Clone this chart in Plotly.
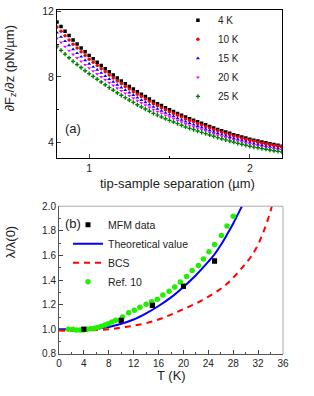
import plotly.graph_objects as go

# ---------------- Panel (a) data ----------------
separation_um = [0.8, 0.825, 0.85, 0.875, 0.9, 0.925, 0.95, 0.975, 1.0, 1.025, 1.05, 1.075,
                 1.1, 1.125, 1.15, 1.175, 1.2, 1.225, 1.25, 1.275, 1.3, 1.325, 1.35, 1.375,
                 1.4, 1.425, 1.45, 1.475, 1.5, 1.525, 1.55, 1.575, 1.6, 1.625, 1.65, 1.675,
                 1.7, 1.725, 1.75, 1.775, 1.8, 1.825, 1.85, 1.875, 1.9, 1.925, 1.95, 1.975,
                 2.0, 2.025, 2.05, 2.075, 2.1, 2.125, 2.15, 2.175, 2.2]

grad_4K = [11.35, 11.07, 10.79, 10.52, 10.25, 10.01, 9.77, 9.53, 9.30, 9.10, 8.90, 8.70,
           8.50, 8.31, 8.12, 7.93, 7.75, 7.59, 7.42, 7.26, 7.10, 6.95, 6.80, 6.65,
           6.50, 6.37, 6.25, 6.12, 6.00, 5.89, 5.77, 5.66, 5.55, 5.45, 5.36, 5.26,
           5.17, 5.08, 4.98, 4.89, 4.80, 4.72, 4.64, 4.56, 4.48, 4.41, 4.34, 4.27,
           4.20, 4.14, 4.09, 4.03, 3.98, 3.93, 3.88, 3.83, 3.78]
grad_10K = [11.05, 10.78, 10.51, 10.25, 9.99, 9.76, 9.53, 9.30, 9.08, 8.89, 8.69, 8.50,
            8.31, 8.12, 7.94, 7.75, 7.58, 7.42, 7.26, 7.10, 6.95, 6.80, 6.66, 6.51,
            6.36, 6.24, 6.12, 6.00, 5.88, 5.77, 5.66, 5.55, 5.44, 5.34, 5.26, 5.16,
            5.07, 4.98, 4.89, 4.80, 4.71, 4.63, 4.55, 4.48, 4.40, 4.33, 4.26, 4.19,
            4.13, 4.07, 4.02, 3.96, 3.91, 3.86, 3.82, 3.77, 3.72]
grad_15K = [10.70, 10.44, 10.18, 9.93, 9.68, 9.45, 9.23, 9.01, 8.80, 8.61, 8.43, 8.24,
            8.05, 7.87, 7.70, 7.52, 7.35, 7.20, 7.04, 6.89, 6.73, 6.59, 6.45, 6.31,
            6.17, 6.05, 5.93, 5.81, 5.70, 5.60, 5.48, 5.38, 5.27, 5.18, 5.09, 5.00,
            4.91, 4.83, 4.73, 4.65, 4.56, 4.48, 4.41, 4.33, 4.25, 4.19, 4.12, 4.05,
            3.99, 3.93, 3.88, 3.82, 3.78, 3.73, 3.68, 3.64, 3.59]
grad_20K = [10.35, 10.10, 9.85, 9.61, 9.37, 9.16, 8.95, 8.74, 8.54, 8.36, 8.18, 8.00,
            7.82, 7.65, 7.48, 7.31, 7.15, 7.00, 6.85, 6.70, 6.55, 6.41, 6.28, 6.14,
            6.00, 5.88, 5.78, 5.66, 5.55, 5.45, 5.34, 5.24, 5.13, 5.04, 4.96, 4.87,
            4.79, 4.71, 4.61, 4.53, 4.45, 4.38, 4.30, 4.23, 4.16, 4.09, 4.03, 3.96,
            3.90, 3.85, 3.80, 3.75, 3.71, 3.66, 3.62, 3.57, 3.53]
grad_25K = [9.85, 9.62, 9.39, 9.17, 8.95, 8.76, 8.57, 8.38, 8.20, 8.03, 7.86, 7.69,
            7.52, 7.35, 7.19, 7.03, 6.88, 6.74, 6.59, 6.45, 6.30, 6.17, 6.04, 5.91,
            5.78, 5.67, 5.56, 5.45, 5.35, 5.25, 5.15, 5.05, 4.95, 4.86, 4.79, 4.70,
            4.62, 4.54, 4.46, 4.38, 4.30, 4.23, 4.16, 4.09, 4.02, 3.95, 3.89, 3.83,
            3.77, 3.72, 3.68, 3.63, 3.59, 3.54, 3.50, 3.46, 3.42]

series_a_names = ["4 K", "10 K", "15 K", "20 K", "25 K"]
series_a_values = [grad_4K, grad_10K, grad_15K, grad_20K, grad_25K]
series_a_colors = ["#000000", "#ff0000", "#0000ff", "#ff00ff", "#008000"]
series_a_symbols = ["square", "circle", "triangle-up", "triangle-down", "cross"]

a_xticks = [1, 2]
a_yticks = [4, 8, 12]

# ---------------- Panel (b) data ----------------
mfm_T = [4, 10, 15, 20, 25]
mfm_lambda = [1.0, 1.075, 1.195, 1.35, 1.555]

theory_T = [0, 2, 4, 6, 8, 10, 12, 14, 16, 18, 20, 22, 24, 25, 26, 27, 28, 29, 29.4]
theory_lambda = [1.0, 1.0, 1.0, 1.005, 1.02, 1.045, 1.08, 1.13, 1.19, 1.26, 1.345,
                 1.44, 1.55, 1.61, 1.685, 1.77, 1.86, 1.96, 2.0]

bcs_T = [0, 4, 8, 10, 12, 14, 16, 18, 20, 22, 24, 26, 27, 28, 29, 30, 31, 32, 33, 34, 34.2]
bcs_lambda = [0.99, 0.99, 1.0, 1.015, 1.03, 1.05, 1.08, 1.12, 1.165, 1.21, 1.265, 1.33,
              1.37, 1.42, 1.475, 1.535, 1.60, 1.69, 1.81, 1.96, 2.0]

ref10_T = [1.5, 2.2, 2.8, 3.4, 3.9, 4.5, 5.1, 5.7, 6.2, 6.8, 7.4, 7.9, 8.5, 9.1, 10.2,
           11.2, 12.1, 13.0, 14.0, 14.9, 15.8, 16.7, 17.7, 18.6, 19.5, 20.5, 21.4, 22.4,
           23.2, 24.1, 25.0, 26.1, 27.0, 28.0]
ref10_lambda = [1.0, 1.0, 0.995, 0.995, 0.995, 1.0, 1.005, 1.01, 1.015, 1.025, 1.035,
                1.045, 1.06, 1.075, 1.10, 1.135, 1.155, 1.18, 1.205, 1.224, 1.245, 1.28,
                1.31, 1.344, 1.384, 1.43, 1.478, 1.518, 1.571, 1.63, 1.69, 1.763, 1.84, 1.918]

FONT = "Arial, Liberation Sans, sans-serif"

fig = go.Figure()

for name, vals, col, sym in zip(series_a_names, series_a_values, series_a_colors, series_a_symbols):
    fig.add_trace(go.Scatter(
        x=separation_um, y=vals, mode="markers", name=name,
        marker=dict(symbol=sym, size=3.5, color=col, line=dict(width=0)),
        xaxis="x", yaxis="y", legend="legend"))

fig.add_trace(go.Scatter(
    x=mfm_T, y=mfm_lambda, mode="markers", name="MFM data",
    marker=dict(symbol="square", size=5, color="black"),
    xaxis="x2", yaxis="y2", legend="legend2"))
fig.add_trace(go.Scatter(
    x=theory_T, y=theory_lambda, mode="lines", name="Theoretical value",
    line=dict(color="#0000ff", width=2, shape="spline"),
    xaxis="x2", yaxis="y2", legend="legend2"))
fig.add_trace(go.Scatter(
    x=bcs_T, y=bcs_lambda, mode="lines", name="BCS",
    line=dict(color="#ff0000", width=2, dash="6px,5px", shape="spline"),
    xaxis="x2", yaxis="y2", legend="legend2"))
fig.add_trace(go.Scatter(
    x=ref10_T, y=ref10_lambda, mode="markers", name="Ref. 10",
    marker=dict(symbol="circle", size=5.5, color="#22ee00"),
    xaxis="x2", yaxis="y2", legend="legend2"))
# redraw MFM squares on top of the green dots
fig.add_trace(go.Scatter(
    x=mfm_T, y=mfm_lambda, mode="markers", showlegend=False,
    marker=dict(symbol="square", size=5, color="black"),
    xaxis="x2", yaxis="y2", hoverinfo="skip"))

axis_common = dict(showgrid=False, zeroline=False, showline=True, ticks="inside",
                   ticklen=4, tickwidth=1)

fig.update_layout(
    width=314, height=396,
    margin=dict(l=57, r=31, t=6, b=42),
    paper_bgcolor="white", plot_bgcolor="white",
    font=dict(family=FONT, color="#222"),
    xaxis=dict(domain=[0, 0.9956], range=[0.8, 2.2], tickvals=a_xticks, anchor="y",
               linecolor="black", mirror=True,
               tickfont=dict(family=FONT, size=10.5, color="#222"),
               minor=dict(tickvals=[1.5], ticks="inside", ticklen=2, tickcolor="black"),
               **axis_common),
    yaxis=dict(domain=[0.569, 1], range=[3.04, 12.08], tickvals=a_yticks, anchor="x",
               linecolor="black", mirror=True,
               tickfont=dict(family=FONT, size=10.5, color="#222"),
               minor=dict(tickvals=[6, 10], ticks="inside", ticklen=2, tickcolor="black"),
               **axis_common),
    xaxis2=dict(domain=[0.00885, 1], range=[0, 36], dtick=4, tick0=0, anchor="y2",
                linecolor="#555",
                tickfont=dict(family=FONT, size=10, color="#222"),
                minor=dict(dtick=2, ticks="inside", ticklen=2, tickcolor="#555"),
                **axis_common),
    yaxis2=dict(domain=[0, 0.4296], range=[0.8, 2.0], dtick=0.2, tick0=0.8,
                tickformat=".1f", anchor="x2", linecolor="#555",
                tickfont=dict(family=FONT, size=10, color="#222"),
                minor=dict(dtick=0.1, ticks="inside", ticklen=2, tickcolor="#555"),
                **axis_common),
    legend=dict(x=0.535, y=1.012, xanchor="left", yanchor="top",
                bgcolor="rgba(0,0,0,0)", font=dict(family=FONT, size=10, color="#222"),
                itemwidth=30, borderwidth=0),
    legend2=dict(x=0.0487, y=0.4178, xanchor="left", yanchor="top",
                 bgcolor="rgba(0,0,0,0)", font=dict(family=FONT, size=10.5, color="#222"),
                 itemwidth=30, borderwidth=0),
    showlegend=True,
)

# light grey top/right frame for panel (b)
fig.add_shape(type="line", xref="x2 domain", yref="y2 domain", x0=0, x1=1, y0=1, y1=1,
              line=dict(color="#aaaaaa", width=1))
fig.add_shape(type="line", xref="x2 domain", yref="y2 domain", x0=1, x1=1, y0=0, y1=1,
              line=dict(color="#aaaaaa", width=1))

# titles and panel labels
fig.add_annotation(text="\u2202F<sub>z</sub>/\u2202z (pN/\u00b5m)", textangle=-90,
                   xref="paper", yref="paper", x=-0.208, y=0.8305, xanchor="center",
                   yanchor="middle", showarrow=False, font=dict(family=FONT, size=13))
fig.add_annotation(text="tip-sample separation (\u00b5m)", xref="paper", yref="paper",
                   x=0.531, y=0.4951, xanchor="center", yanchor="middle", showarrow=False,
                   font=dict(family=FONT, size=13))
fig.add_annotation(text="(a)", xref="x domain", yref="y domain", x=0.025, y=0.2,
                   xanchor="left", yanchor="middle", showarrow=False,
                   font=dict(family=FONT, size=13))
fig.add_annotation(text="\u03bb/\u03bb(0)", textangle=-90,
                   xref="paper", yref="paper", x=-0.208, y=0.3276, xanchor="center",
                   yanchor="middle", showarrow=False, font=dict(family=FONT, size=13))
fig.add_annotation(text="T (K)", xref="paper", yref="paper",
                   x=0.5075, y=-0.0632, xanchor="center", yanchor="middle", showarrow=False,
                   font=dict(family=FONT, size=13))
fig.add_annotation(text="(b)", xref="x2 domain", yref="y2 domain", x=0.02, y=0.88,
                   xanchor="left", yanchor="middle", showarrow=False,
                   font=dict(family=FONT, size=13))

fig.write_html("out.html", config={"staticPlot": True, "displayModeBar": False},
               post_script="document.body.style.margin='0';")
